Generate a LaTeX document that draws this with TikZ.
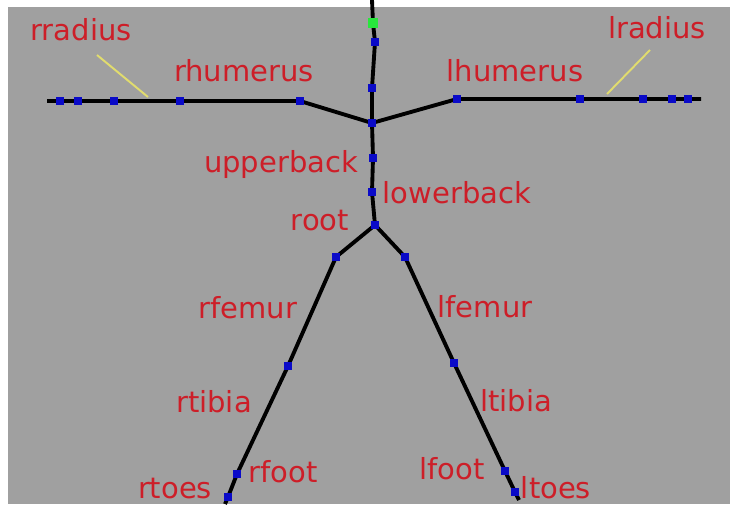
\documentclass[tikz,border=0pt]{standalone}
\usepackage{fontspec}
\setmainfont{DejaVu Sans}
\usepackage{xcolor}
\usepackage{tikz}

\definecolor{bggray}{RGB}{160,160,160}
\definecolor{lblred}{RGB}{205,30,40}
\definecolor{jointblue}{RGB}{10,10,200}
\definecolor{headgreen}{RGB}{40,230,60}
\definecolor{pointer}{RGB}{225,220,110}

\tikzset{
  bone/.style={line width=2.2pt, black},
  joint/.style={rectangle, fill=jointblue, minimum size=0.17cm, inner sep=0pt},
  headjoint/.style={rectangle, fill=headgreen, minimum size=0.19cm, inner sep=0pt},
  lbl/.style={text=lblred, anchor=base, inner sep=0pt, font=\fontsize{16.5}{18}\selectfont},
  tick/.style={pointer, line width=1.1pt}
}

\begin{document}
\begin{tikzpicture}[x=0.02cm, y=-0.02cm]
\useasboundingbox (0,0) rectangle (733,504);
\fill[white] (0,0) rectangle (733,504);
\fill[bggray] (8,7) rectangle (730,504);

% spine
\coordinate (top) at (372,0);
\node[headjoint] (head) at (373,23) {};
\node[joint] (neck1) at (375,42) {};
\node[joint] (neck2) at (372,88) {};
\node[joint] (thorax) at (372,123) {};
\node[joint] (upperback) at (373,158) {};
\node[joint] (lowerback) at (372,192) {};
\node[joint] (root) at (375,225) {};

% right arm
\node[joint] (rclav) at (300,101) {};
\node[joint] (rhum) at (180,101) {};
\node[joint] (rrad) at (114,101) {};
\node[joint] (rwrist) at (78,101) {};
\node[joint] (rhand) at (60,101) {};
\coordinate (rfinger) at (47,101);

% left arm
\node[joint] (lclav) at (457,99) {};
\node[joint] (lhum) at (580,99) {};
\node[joint] (lrad) at (643,99) {};
\node[joint] (lwrist) at (672,99) {};
\node[joint] (lhand) at (688,99) {};
\coordinate (lfinger) at (701,99);

% right leg
\node[joint] (rhip) at (336,257) {};
\node[joint] (rknee) at (288,366) {};
\node[joint] (rankle) at (237,474) {};
\node[joint] (rtoe) at (228,497) {};
\coordinate (rtip) at (225,504);

% left leg
\node[joint] (lhip) at (405,257) {};
\node[joint] (lknee) at (454,363) {};
\node[joint] (lankle) at (505,471) {};
\node[joint] (ltoe) at (515,492) {};
\coordinate (ltip) at (519,500);

% bones
\draw[bone] (top) -- (head.center) -- (neck1.center) -- (neck2.center) -- (thorax.center)
  -- (upperback.center) -- (lowerback.center) -- (root.center);
\draw[bone] (thorax.center) -- (rclav.center) -- (rhum.center) -- (rrad.center)
  -- (rwrist.center) -- (rhand.center) -- (rfinger);
\draw[bone] (thorax.center) -- (lclav.center) -- (lhum.center) -- (lrad.center)
  -- (lwrist.center) -- (lhand.center) -- (lfinger);
\draw[bone] (root.center) -- (rhip.center) -- (rknee.center) -- (rankle.center)
  -- (rtoe.center) -- (rtip);
\draw[bone] (root.center) -- (lhip.center) -- (lknee.center) -- (lankle.center)
  -- (ltoe.center) -- (ltip);

% joints on top of bones
\foreach \j/\s in {head/headjoint,neck1/joint,neck2/joint,thorax/joint,upperback/joint,
  lowerback/joint,root/joint,rclav/joint,rhum/joint,rrad/joint,rwrist/joint,rhand/joint,
  lclav/joint,lhum/joint,lrad/joint,lwrist/joint,lhand/joint,rhip/joint,rknee/joint,
  rankle/joint,rtoe/joint,lhip/joint,lknee/joint,lankle/joint,ltoe/joint}
  \node[\s] at (\j) {};

% radius pointers
\coordinate (rtickA) at (97,55);
\coordinate (rtickB) at (148,97);
\coordinate (ltickA) at (650,50);
\coordinate (ltickB) at (607,94);
\draw[tick] (rtickA) -- (rtickB);
\draw[tick] (ltickA) -- (ltickB);

% labels
\node[lbl] (t-rradius) at (81,40) {rradius};
\node[lbl] (t-rhumerus) at (244,81) {rhumerus};
\node[lbl] (t-lhumerus) at (515,81) {lhumerus};
\node[lbl] (t-lradius) at (657,38) {lradius};
\node[lbl] (t-upperback) at (281,172) {upperback};
\node[lbl] (t-lowerback) at (457,203) {lowerback};
\node[lbl] (t-root) at (320,230) {root};
\node[lbl] (t-rfemur) at (248,318) {rfemur};
\node[lbl] (t-lfemur) at (485,317) {lfemur};
\node[lbl] (t-rtibia) at (214,412) {rtibia};
\node[lbl] (t-ltibia) at (516,411) {ltibia};
\node[lbl] (t-rfoot) at (283,482) {rfoot};
\node[lbl] (t-lfoot) at (452,479) {lfoot};
\node[lbl] (t-rtoes) at (175,498) {rtoes};
\node[lbl] (t-ltoes) at (556,498) {ltoes};
\end{tikzpicture}
\end{document}
